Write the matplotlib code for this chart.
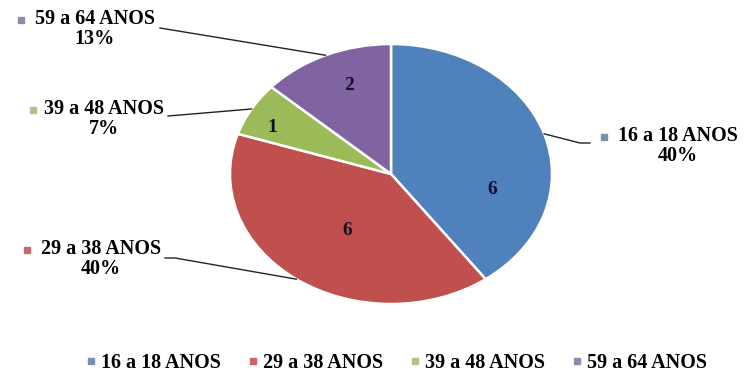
import matplotlib.pyplot as plt
from matplotlib.lines import Line2D
import numpy as np

# age groups and counts
faixas = ['16 a 18 ANOS', '29 a 38 ANOS', '39 a 48 ANOS', '59 a 64 ANOS']
contagem = [6, 6, 1, 2]
percentuais = ['40%', '40%', '7%', '13%']
cores = ['#4F81BD', '#C0504D', '#9BBB59', '#8064A2']
cores_marca = ['#7890AA', '#C46A6A', '#AFC587', '#9488AA']

W, H = 745, 382
CX, CY = 391, 174      # pie centre (px from top-left)
RX, RY = 161, 130      # pie radii (px)

plt.rcParams['font.family'] = ['Liberation Serif', 'DejaVu Serif']
fig = plt.figure(figsize=(W / 100, H / 100), dpi=100)
ax = fig.add_axes([0, 0, 1, 1])

wedges, _ = ax.pie(contagem, startangle=90, counterclock=False, radius=1,
                   colors=cores, wedgeprops=dict(edgecolor='white', linewidth=1.8))
ax.set_aspect('auto')
ax.set_xlim(-CX / RX, (W - CX) / RX)
ax.set_ylim(-(H - CY) / RY, CY / RY)
ax.axis('off')


def px(x, y):
    # pixel position -> data coords
    return (x - CX) / RX, (CY - y) / RY


# inner value labels (angle in degrees, radial fraction)
pos_valor = [(-11, 0.64), (-122, 0.51), (154, 0.82), (111, 0.73)]
for v, (ang, r) in zip(contagem, pos_valor):
    a = np.radians(ang)
    ax.text(r * np.cos(a), r * np.sin(a), str(v), ha='center', va='center',
            fontsize=14, fontweight='bold', color='#10102a')

# outer labels: text centre, marker x, leader path (elbows in px)
rotulos = [
    dict(tx=678, ty=137, mx=604, path=[(580, 143), (590, 143)]),
    dict(tx=101, ty=250, mx=27, path=[(175, 258), (165, 258)]),
    dict(tx=104, ty=110, mx=33, path=[(168, 116)]),
    dict(tx=95, ty=20, mx=21, path=[(160, 28)]),
]
for w, nome, pct, cm, lab in zip(wedges, faixas, percentuais, cores_marca, rotulos):
    mid = np.radians((w.theta1 + w.theta2) / 2)
    pts = [(np.cos(mid), np.sin(mid))] + [px(*p) for p in lab['path']]
    xs, ys = zip(*pts)
    ax.plot(xs, ys, color='#222222', lw=1.0)
    x0, y0 = px(lab['tx'], lab['ty'] + 9)
    ax.text(x0, y0, nome + '\n' + pct, ha='center', va='center', ma='center',
            linespacing=0.95, fontsize=14.5, fontweight='bold')
    mxd, myd = px(lab['mx'], lab['ty'])
    ax.plot(mxd, myd, 's', ms=4.5, color=cm)

handles = [Line2D([], [], marker='s', ls='', ms=4.5, color=c) for c in cores_marca]
fig.legend(handles, faixas, loc='center', bbox_to_anchor=(397 / W, 1 - 363 / H),
           ncol=4, frameon=False, handlelength=0.4, handletextpad=0.3,
           columnspacing=1.4, prop=dict(size=14.5, weight='bold'))

fig.savefig('out.png', dpi=100)
